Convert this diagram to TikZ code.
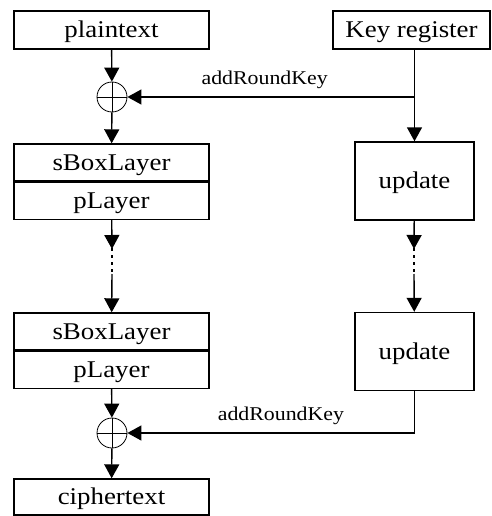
\documentclass[tikz,border=0pt]{standalone}
\usepackage{fontspec}
\setmainfont{Liberation Serif}
\usetikzlibrary{arrows.meta}
% slightly widened lettering
\newcommand{\widetxt}[1]{\scalebox{1.12}[1]{#1}}
\begin{document}
\begin{tikzpicture}[x=1pt,y=-1pt,
  box/.style={draw, line width=1.4pt, minimum height=38pt, inner sep=0pt,
    text height=17pt, text depth=2pt,
    font=\fontsize{24}{26}\selectfont},
  wide/.style={box, minimum width=195pt},
  half/.style={box, minimum width=195pt, minimum height=37pt},
  updbox/.style={box, minimum width=119pt, minimum height=78pt},
  xorsym/.style={draw, circle, line width=0.8pt, minimum size=30pt, inner sep=0pt},
  flow/.style={line width=1.4pt, -{Triangle[width=15pt,length=14pt]}},
  wire/.style={line width=1.4pt},
  gap/.style={line width=2pt, dash pattern=on 2.5pt off 4.5pt},
  lbl/.style={font=\fontsize{19.5}{21}\selectfont}]
\useasboundingbox (0,0) rectangle (491,516);

% left column: cipher rounds
\node[wide] (plain) at (111.5,30) {\widetxt{plaintext}};
\node[xorsym] (x1) at (112,97) {};
\draw[line width=0.8pt] (x1.north) -- (x1.south) (x1.west) -- (x1.east);
\node[half] (s1) at (111.5,162.5) {\widetxt{sBoxLayer}};
\node[half, anchor=north] (p1) at (s1.south) {\widetxt{pLayer}};
\node[half] (s2) at (111.5,331.5) {\widetxt{sBoxLayer}};
\node[half, anchor=north] (p2) at (s2.south) {\widetxt{pLayer}};
\node[xorsym] (x2) at (112,433) {};
\draw[line width=0.8pt] (x2.north) -- (x2.south) (x2.west) -- (x2.east);
\node[wide, minimum height=36pt] (cipher) at (111.5,497) {\widetxt{ciphertext}};

% right column: key schedule
\node[box, minimum width=157pt] (key) at (411.5,30) {\widetxt{Key register}};
\node[updbox] (u1) at (414.5,181) {\widetxt{update}};
\node[updbox] (u2) at (414.5,351.5) {\widetxt{update}};

% data path
\draw[flow] (plain) -- (x1);
\draw[flow] (x1) -- (s1);
\coordinate (la) at (112,249);
\coordinate (lb) at (112,274);
\draw[flow] (p1) -- (la);
\draw[gap] (112,248) -- (112,272);
\draw[flow] (lb) -- (s2);
\draw[flow] (p2) -- (x2);
\draw[flow] (x2) -- (cipher);

% key path
\coordinate (k1) at (414,97);
\draw[flow] (key.south -| u1.north) -- (u1.north);
\draw[flow] (k1) -- node[lbl, above=4pt, xshift=-6pt] {\widetxt{addRoundKey}} (x1.east);
\coordinate (ra) at (414,249);
\coordinate (rb) at (414,274);
\draw[flow] (u1) -- (ra);
\draw[gap] (414,248) -- (414,272);
\draw[flow] (rb) -- (u2);
\coordinate (k2) at (u2.south |- x2.east);
\draw[wire] (u2.south) -- (k2);
\draw[flow] (k2) -- node[lbl, above=4pt, xshift=10pt] {\widetxt{addRoundKey}} (x2.east);
\end{tikzpicture}
\end{document}
